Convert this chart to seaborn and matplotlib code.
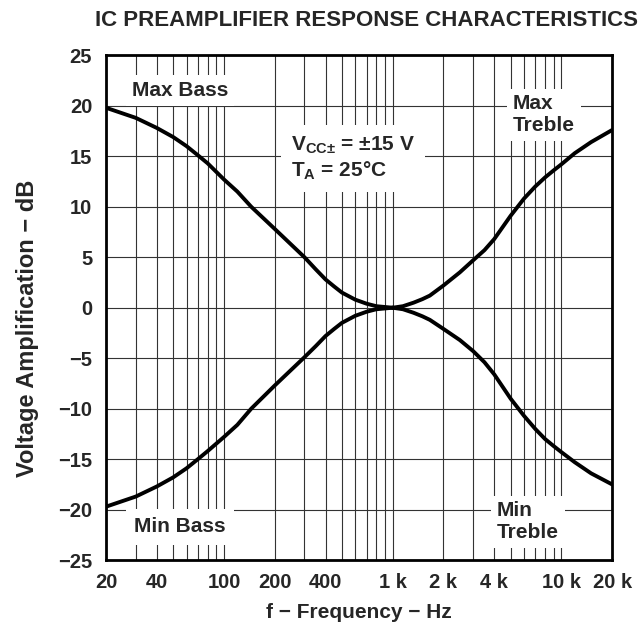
import numpy as np
import pandas as pd
import matplotlib
matplotlib.use("Agg")
import matplotlib.pyplot as plt
import seaborn as sns
from matplotlib.ticker import FixedLocator, LogLocator, NullFormatter

# valores (datasheet)
freq_bass = [20, 30, 40, 50, 60, 70, 80, 100, 120, 145, 200, 300, 350, 400, 450, 500, 600, 700, 800, 1000]
max_bass = [19.8, 18.8, 17.8, 16.9, 16.0, 15.1, 14.3, 12.7, 11.5, 10.0, 7.8, 5.0, 3.8, 2.8, 2.1, 1.5, 0.8, 0.4, 0.15, 0.0]
min_bass = [-19.7, -18.7, -17.7, -16.8, -15.9, -15.0, -14.2, -12.8, -11.6, -10.0, -7.7, -4.9, -3.8, -2.8, -2.1, -1.5, -0.8, -0.4, -0.15, 0.0]

freq_treble = [1000, 1150, 1330, 1500, 1660, 2000, 2500, 3000, 3500, 4000, 5000, 6000, 7000, 8000, 9000, 10000, 12000, 15000, 20000]
max_treble = [0.0, 0.15, 0.5, 0.85, 1.2, 2.2, 3.5, 4.7, 5.7, 6.8, 9.1, 10.8, 12.0, 12.9, 13.6, 14.2, 15.3, 16.4, 17.6]
min_treble = [0.0, -0.15, -0.5, -0.85, -1.2, -2.1, -3.2, -4.3, -5.4, -6.6, -9.0, -10.7, -12.0, -13.0, -13.7, -14.3, -15.3, -16.4, -17.5]

x_ticks = [20, 40, 100, 200, 400, 1000, 2000, 4000, 10000, 20000]
x_labels = ["20", "40", "100", "200", "400", "1 k", "2 k", "4 k", "10 k", "20 k"]
y_ticks = list(range(-25, 30, 5))

df = pd.concat([
    pd.DataFrame({"f": freq_bass, "dB": max_bass, "curva": "Max Bass"}),
    pd.DataFrame({"f": freq_bass, "dB": min_bass, "curva": "Min Bass"}),
    pd.DataFrame({"f": freq_treble, "dB": max_treble, "curva": "Max Treble"}),
    pd.DataFrame({"f": freq_treble, "dB": min_treble, "curva": "Min Treble"}),
])

sns.set_style("white")
plt.rcParams["font.family"] = ["Liberation Sans", "DejaVu Sans"]
plt.rcParams["font.weight"] = "bold"
plt.rcParams["mathtext.fontset"] = "custom"
plt.rcParams["mathtext.rm"] = "Liberation Sans:bold"
plt.rcParams["mathtext.bf"] = "Liberation Sans:bold"

fig = plt.figure(figsize=(6.39, 6.28), dpi=100)
ax = fig.add_axes([0.166, 0.108, 0.792, 0.804])

sns.lineplot(data=df, x="f", y="dB", hue="curva", palette=["black"] * 4,
             linewidth=2.8, legend=False, ax=ax, zorder=5)

ax.set_xscale("log")
ax.set_xlim(20, 20000)
ax.set_ylim(-25, 25)
ax.xaxis.set_major_locator(FixedLocator(x_ticks))
ax.set_xticklabels(x_labels)
ax.xaxis.set_minor_locator(LogLocator(base=10, subs=range(1, 10)))
ax.xaxis.set_minor_formatter(NullFormatter())
ax.set_yticks(y_ticks)

ax.set_axisbelow(True)
ax.grid(True, which="both", axis="x", color="#333333", linewidth=0.8)
ax.grid(True, which="major", axis="y", color="#333333", linewidth=0.8)
ax.tick_params(which="both", length=0, labelsize=14.5)
ax.tick_params(axis="x", pad=9)
ax.tick_params(axis="y", pad=10)
for s in ax.spines.values():
    s.set_color("black")
    s.set_linewidth(2)

ax.set_xlabel("f \u2212 Frequency \u2212 Hz", fontsize=15, fontweight="bold", labelpad=8)
ax.set_ylabel("Voltage Amplification \u2212 dB", fontsize=17, fontweight="bold")
ax.yaxis.set_label_coords(-0.132, 0.459)
fig.text(0.573, 0.968, "IC PREAMPLIFIER RESPONSE CHARACTERISTICS", ha="center", va="center",
         fontsize=16, fontweight="bold")

caixa = dict(facecolor="white", edgecolor="none", pad=4)
ax.text(55, 21.5, "Max Bass", ha="center", va="center", fontsize=15, fontweight="bold",
        bbox=caixa, zorder=4)
ax.text(55, -21.7, "Min Bass", ha="center", va="center", fontsize=15, fontweight="bold",
        bbox=dict(facecolor="white", edgecolor="none", pad=6), zorder=4)
ax.text(5170, 19.1, "Max\nTreble", ha="left", va="center", fontsize=15, fontweight="bold",
        bbox=caixa, zorder=4)
ax.text(4160, -21.2, "Min\nTreble", ha="left", va="center", fontsize=15, fontweight="bold",
        bbox=caixa, zorder=4)
ax.text(250, 14.8, "$\\mathbf{V_{CC{\\pm}}}$ = \u00b115 V \n$\\mathbf{T_A}$ = 25\u00b0C", ha="left",
        va="center", fontsize=15, fontweight="bold", bbox=dict(facecolor="white", edgecolor="none", pad=7),
        zorder=4)

fig.savefig("out.png", dpi=100)
